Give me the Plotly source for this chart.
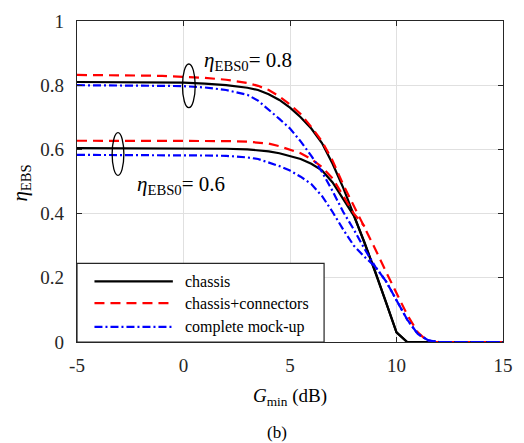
import plotly.graph_objects as go

# ---------------- data ----------------
G = [-5, -4, -3, -2, -1, 0, 1, 2, 3, 3.5, 4, 4.5, 5, 5.5, 6, 6.5, 7, 7.5, 8,
     8.5, 9, 9.5, 10, 10.5, 11, 11.5, 12, 13, 14, 15]
G_conn06 = [-5, -4, -3, -2, -1, 0, 1, 2, 3, 3.5, 4, 4.5, 5, 5.5, 6, 6.5, 7, 7.5, 8, 8.5]

chassis_08 = [0.810, 0.810, 0.810, 0.810, 0.809, 0.808, 0.805, 0.800, 0.792, 0.785,
              0.772, 0.754, 0.730, 0.700, 0.665, 0.620, 0.555, 0.480, 0.395,
              0.310, 0.220, 0.125, 0.030, 0.0, 0.0, 0.0, 0.0, 0.0, 0.0, 0.0]
chassis_06 = [0.604, 0.604, 0.604, 0.604, 0.604, 0.604, 0.603, 0.602, 0.600, 0.598,
              0.594, 0.588, 0.580, 0.570, 0.555, 0.535, 0.497, 0.447, 0.393,
              0.310, 0.220, 0.125, 0.030, 0.0, 0.0, 0.0, 0.0, 0.0, 0.0, 0.0]
conn_08 = [0.832, 0.832, 0.831, 0.830, 0.829, 0.827, 0.823, 0.817, 0.807, 0.798,
           0.785, 0.765, 0.740, 0.710, 0.670, 0.625, 0.565, 0.490, 0.425,
           0.360, 0.290, 0.220, 0.150, 0.085, 0.030, 0.0, 0.0, 0.0, 0.0, 0.0]
conn_06 = [0.627, 0.627, 0.627, 0.627, 0.627, 0.627, 0.627, 0.626, 0.624, 0.622,
           0.618, 0.610, 0.600, 0.588, 0.570, 0.545, 0.510, 0.455, 0.400,
           0.360]
mock_08 = [0.800, 0.800, 0.800, 0.799, 0.798, 0.797, 0.793, 0.785, 0.770, 0.752,
           0.725, 0.695, 0.665, 0.625, 0.580, 0.530, 0.470, 0.405, 0.350,
           0.290, 0.235, 0.190, 0.130, 0.070, 0.025, 0.005, 0.0, 0.0, 0.0, 0.0]
mock_06 = [0.583, 0.583, 0.583, 0.583, 0.582, 0.582, 0.581, 0.580, 0.575, 0.570,
           0.560, 0.548, 0.534, 0.515, 0.492, 0.455, 0.405, 0.350, 0.300,
           0.265, 0.235, 0.190, 0.130, 0.070, 0.025, 0.005, 0.0, 0.0, 0.0, 0.0]

legend_names = ["chassis", "chassis+connectors", "complete mock-up"]
x_ticks = [-5, 0, 5, 10, 15]
x_tick_labels = ["-5", "0", "5", "10", "15"]
y_ticks = [0, 0.2, 0.4, 0.6, 0.8, 1]
y_tick_labels = ["0", "0.2", "0.4", "0.6", "0.8", "1"]

FONT = "Liberation Serif"

styles = [
    dict(color="black", width=2.2, dash="solid"),
    dict(color="#ff0000", width=2.2, dash="10px,6px"),
    dict(color="#0000ff", width=2.2, dash="8px,3px,2px,3px"),
]

fig = go.Figure()
series = [((G, chassis_08), (G, chassis_06)),
          ((G, conn_08), (G_conn06, conn_06)),
          ((G, mock_08), (G, mock_06))]
for pair, st, name in zip(series, styles, legend_names):
    for xs, ys in pair:
        fig.add_trace(go.Scatter(x=xs, y=ys, mode="lines", line=st,
                                 name=name, showlegend=False))

# ---------------- custom legend ----------------
shapes = [dict(type="rect", xref="paper", yref="paper", x0=0, x1=0.58, y0=0, y1=0.245,
               fillcolor="white", line=dict(color="#262626", width=1.2), layer="above")]
annotations = []
leg_y = [0.189, 0.121, 0.047]
for st, name, yy in zip(styles, legend_names, leg_y):
    shapes.append(dict(type="line", xref="paper", yref="paper", x0=0.041, x1=0.225,
                       y0=yy, y1=yy, line=st, layer="above"))
    annotations.append(dict(xref="paper", yref="paper", x=0.248, y=yy, text=name,
                            showarrow=False, xanchor="left", yanchor="middle",
                            font=dict(family=FONT, size=16, color="black")))

# ellipses
shapes.append(dict(type="circle", xref="x", yref="y", x0=-0.05, x1=0.55, y0=0.73, y1=0.866,
                   line=dict(color="black", width=1.3)))
shapes.append(dict(type="circle", xref="x", yref="y", x0=-3.35, x1=-2.8, y0=0.519, y1=0.652,
                   line=dict(color="black", width=1.3)))

annotations += [
    dict(xref="x", yref="y", x=0.85, y=0.875, text="<i>η</i><sub>EBS0</sub>= 0.8",
         showarrow=False, xanchor="left", yanchor="middle",
         font=dict(family=FONT, size=21, color="black")),
    dict(xref="x", yref="y", x=-2.3, y=0.49, text="<i>η</i><sub>EBS0</sub>= 0.6",
         showarrow=False, xanchor="left", yanchor="middle",
         font=dict(family=FONT, size=21, color="black")),
    dict(xref="paper", yref="paper", x=0.5, y=-0.172, text="<i>G</i><sub>min</sub> (dB)",
         showarrow=False, xanchor="center", yanchor="middle",
         font=dict(family=FONT, size=19, color="black")),
    dict(xref="paper", yref="paper", x=0.47, y=-0.283, text="(b)",
         showarrow=False, xanchor="center", yanchor="middle",
         font=dict(family=FONT, size=17, color="black")),
    dict(xref="paper", yref="paper", x=-0.131, y=0.494, text="<i>η</i><sub>EBS</sub>",
         showarrow=False, xanchor="center", yanchor="middle", textangle=-90,
         font=dict(family=FONT, size=21, color="black")),
]

axis_common = dict(showline=True, mirror="ticks", linecolor="#262626", linewidth=1.2,
                   ticks="inside", ticklen=5, tickcolor="#262626",
                   showgrid=True, gridcolor="#e0e0e0", gridwidth=1, zeroline=False,
                   tickfont=dict(family=FONT, size=19, color="#262626"))

fig.update_layout(
    width=524, height=443,
    margin=dict(l=77, r=11, t=20, b=101),
    paper_bgcolor="white", plot_bgcolor="white",
    font=dict(family=FONT),
    showlegend=False,
    xaxis=dict(range=[-5, 15], tickvals=x_ticks, ticktext=x_tick_labels,
               ticklabelstandoff=6, **axis_common),
    yaxis=dict(range=[0, 1], tickvals=y_ticks, ticktext=y_tick_labels,
               ticklabelstandoff=8, **axis_common),
    shapes=shapes,
    annotations=annotations,
)

fig.write_html("out.html", config={"displayModeBar": False},
               post_script="document.body.style.margin='0';document.body.style.padding='0';")
